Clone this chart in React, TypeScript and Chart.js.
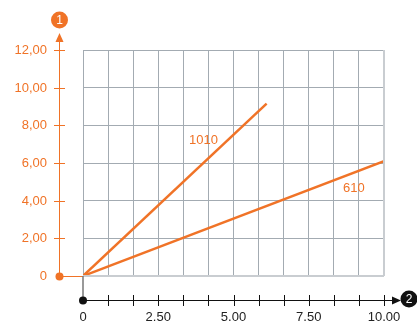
import React, { useEffect, useRef } from "react";
import { Chart, registerables } from "chart.js";

Chart.register(...registerables);

const xGridValues = [0, 10 / 12, 20 / 12, 30 / 12, 40 / 12, 50 / 12, 60 / 12, 70 / 12, 80 / 12, 90 / 12, 100 / 12, 110 / 12, 10];
const xLabelValues = [0, 2.5, 5, 7.5, 10];
const xLabels = ["0", "2.50", "5.00", "7.50", "10.00"];
const yGridValues = [0, 2, 4, 6, 8, 10, 12];
const yLabels = ["0", "2,00", "4,00", "6,00", "8,00", "10,00", "12,00"];

const series1010 = [
  { x: 0, y: 0 },
  { x: 6.1, y: 9.15 },
];
const series610 = [
  { x: 0, y: 0 },
  { x: 10, y: 6.1 },
];
const seriesNames = ["1010", "610"];
const seriesLabelPos = [
  { x: 4.0, y: 7.2 },
  { x: 9.0, y: 4.65 },
];

const ORANGE = "#f07327";
const GRID = "#a3abb2";
const BORDER = "#c9cdd1";
const FONT = "Liberation Sans, Arial, sans-serif";

const decorPlugin = {
  id: "decor",
  afterDraw(chart: any) {
    const ctx = chart.ctx as CanvasRenderingContext2D;
    const xs = chart.scales.x;
    const ys = chart.scales.y;
    const ca = chart.chartArea;
    const x0 = xs.getPixelForValue(0);
    const y0 = ys.getPixelForValue(0);
    ctx.save();

    // light border right & bottom
    ctx.strokeStyle = BORDER;
    ctx.lineWidth = 2;
    ctx.beginPath();
    ctx.moveTo(ca.right, ca.top);
    ctx.lineTo(ca.right, ca.bottom);
    ctx.moveTo(ca.left, ca.bottom);
    ctx.lineTo(ca.right, ca.bottom);
    ctx.stroke();

    // Y axis (orange)
    const yAxisX = x0 - 24;
    ctx.strokeStyle = ORANGE;
    ctx.lineWidth = 1;
    ctx.beginPath();
    ctx.moveTo(yAxisX + 0.5, y0);
    ctx.lineTo(yAxisX + 0.5, ys.getPixelForValue(12) - 10);
    ctx.stroke();
    // connector from dot to grid origin
    ctx.beginPath();
    ctx.moveTo(yAxisX, y0 + 0.5);
    ctx.lineTo(x0, y0 + 0.5);
    ctx.stroke();
    // arrow
    const arrowTop = ys.getPixelForValue(12) - 17;
    ctx.fillStyle = ORANGE;
    ctx.beginPath();
    ctx.moveTo(yAxisX + 0.5, arrowTop);
    ctx.lineTo(yAxisX - 3.5, arrowTop + 9);
    ctx.lineTo(yAxisX + 4.5, arrowTop + 9);
    ctx.closePath();
    ctx.fill();
    // circle 1
    ctx.beginPath();
    ctx.arc(yAxisX + 0.5, arrowTop - 13, 8.5, 0, Math.PI * 2);
    ctx.fill();
    ctx.fillStyle = "#fff";
    ctx.font = "12px " + FONT;
    ctx.textAlign = "center";
    ctx.textBaseline = "middle";
    ctx.fillText("1", yAxisX + 0.5, arrowTop - 12.5);
    // origin dot
    ctx.fillStyle = ORANGE;
    ctx.beginPath();
    ctx.arc(yAxisX + 0.5, y0 + 0.5, 4, 0, Math.PI * 2);
    ctx.fill();
    // ticks and labels
    ctx.font = "13px " + FONT;
    ctx.textAlign = "right";
    ctx.textBaseline = "middle";
    yGridValues.forEach((v, i) => {
      const py = Math.round(ys.getPixelForValue(v)) + 0.5;
      if (i > 0) {
        ctx.strokeStyle = ORANGE;
        ctx.beginPath();
        ctx.moveTo(yAxisX - 5, py);
        ctx.lineTo(yAxisX + 6, py);
        ctx.stroke();
      }
      ctx.fillStyle = ORANGE;
      ctx.fillText(yLabels[i], yAxisX - 12, py);
    });

    // X axis (black)
    const xAxisY = y0 + 24;
    ctx.strokeStyle = "#777";
    ctx.lineWidth = 1.5;
    ctx.beginPath();
    ctx.moveTo(x0, y0);
    ctx.lineTo(x0, xAxisY);
    ctx.stroke();
    ctx.strokeStyle = "#111";
    ctx.lineWidth = 1;
    ctx.beginPath();
    ctx.moveTo(x0, xAxisY + 0.5);
    ctx.lineTo(xs.getPixelForValue(10) + 10, xAxisY + 0.5);
    ctx.stroke();
    xGridValues.forEach((v, i) => {
      if (i === 0) return;
      const px = Math.round(xs.getPixelForValue(v)) + 0.5;
      ctx.beginPath();
      ctx.moveTo(px, xAxisY - 5);
      ctx.lineTo(px, xAxisY + 6);
      ctx.stroke();
    });
    const arrowX = xs.getPixelForValue(10) + 8;
    ctx.fillStyle = "#111";
    ctx.beginPath();
    ctx.moveTo(arrowX + 9, xAxisY + 0.5);
    ctx.lineTo(arrowX, xAxisY - 3.5);
    ctx.lineTo(arrowX, xAxisY + 4.5);
    ctx.closePath();
    ctx.fill();
    ctx.beginPath();
    ctx.arc(arrowX + 17, xAxisY - 1, 8.5, 0, Math.PI * 2);
    ctx.fill();
    ctx.fillStyle = "#fff";
    ctx.font = "12px " + FONT;
    ctx.textAlign = "center";
    ctx.textBaseline = "middle";
    ctx.fillText("2", arrowX + 17, xAxisY - 0.5);
    // origin dot
    ctx.fillStyle = "#111";
    ctx.beginPath();
    ctx.arc(x0, xAxisY + 0.5, 4, 0, Math.PI * 2);
    ctx.fill();
    // labels
    ctx.font = "13px " + FONT;
    ctx.fillStyle = "#222";
    ctx.textBaseline = "middle";
    xLabelValues.forEach((v, i) => {
      ctx.fillText(xLabels[i], xs.getPixelForValue(v), xAxisY + 17);
    });

    // series labels
    ctx.fillStyle = ORANGE;
    ctx.font = "13px " + FONT;
    seriesNames.forEach((n, i) => {
      ctx.fillText(n, xs.getPixelForValue(seriesLabelPos[i].x), ys.getPixelForValue(seriesLabelPos[i].y));
    });
    ctx.restore();
  },
};

export default function App() {
  const ref = useRef<HTMLCanvasElement>(null);
  useEffect(() => {
    if (!ref.current) return;
    const chart = new Chart(ref.current, {
      type: "scatter",
      data: {
        datasets: [
          {
            label: seriesNames[0],
            data: series1010,
            showLine: true,
            borderColor: ORANGE,
            borderWidth: 2.5,
            pointRadius: 0,
          },
          {
            label: seriesNames[1],
            data: series610,
            showLine: true,
            borderColor: ORANGE,
            borderWidth: 2.5,
            pointRadius: 0,
          },
        ],
      },
      options: {
        animation: false,
        responsive: false,
        layout: { padding: { left: 83, right: 33, top: 50, bottom: 46 } },
        plugins: { legend: { display: false }, tooltip: { enabled: false } },
        scales: {
          x: {
            type: "linear",
            min: 0,
            max: 10,
            afterBuildTicks: (s: any) => {
              s.ticks = xGridValues.map((v) => ({ value: v }));
            },
            ticks: { display: false },
            grid: { color: GRID, drawTicks: false, lineWidth: 1 },
            border: { display: false },
          },
          y: {
            type: "linear",
            min: 0,
            max: 12,
            afterBuildTicks: (s: any) => {
              s.ticks = yGridValues.map((v) => ({ value: v }));
            },
            ticks: { display: false },
            grid: { color: GRID, drawTicks: false, lineWidth: 1 },
            border: { display: false },
          },
        },
      },
      plugins: [decorPlugin],
    });
    return () => chart.destroy();
  }, []);
  return (
    <div style={{ position: "fixed", left: 0, top: 0, width: 417, height: 322, background: "#fff" }}>
      <canvas ref={ref} width={417} height={322} style={{ width: 417, height: 322 }} />
    </div>
  );
}
